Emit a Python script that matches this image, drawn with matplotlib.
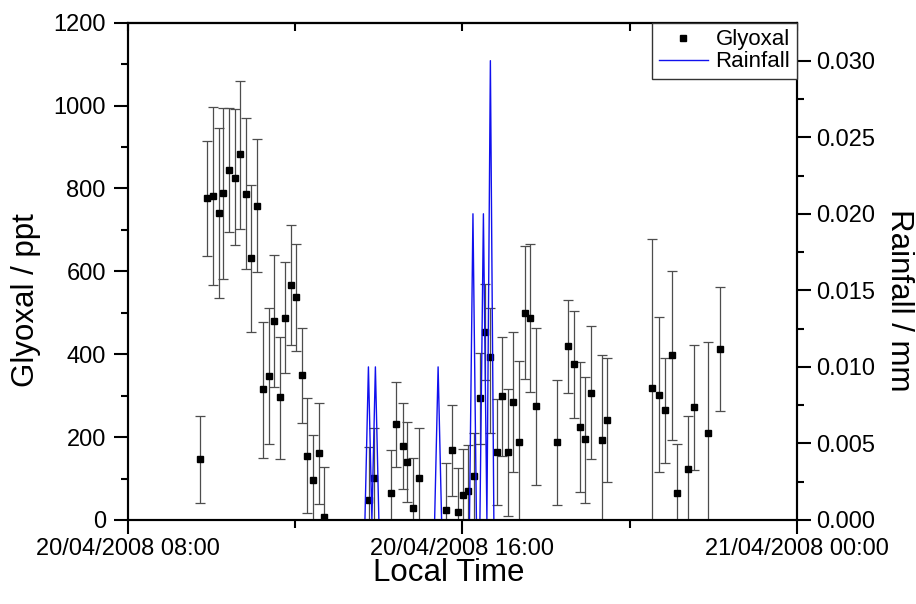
import datetime as dt
import matplotlib
matplotlib.use('Agg')
import matplotlib.pyplot as plt
import matplotlib.dates as mdates
from matplotlib.lines import Line2D
from matplotlib.ticker import MultipleLocator, FormatStrFormatter
import numpy as np

plt.rcParams['font.family'] = ['Liberation Sans', 'DejaVu Sans']

DAY = dt.datetime(2008, 4, 20)

# glyoxal measurements (local time, ppt, lower / upper end of error bar)
glyoxal_time = ['09:43', '09:54', '10:02', '10:10', '10:17', '10:25', '10:33', '10:41',
                '10:49', '10:57', '11:05', '11:14', '11:22', '11:30', '11:38', '11:46',
                '11:54', '12:01', '12:10', '12:17', '12:25', '12:34', '12:41', '13:46',
                '13:53', '14:17', '14:25', '14:34', '14:41', '14:49', '14:57', '15:37',
                '15:45', '15:53', '16:01', '16:08', '16:16', '16:25', '16:32', '16:40',
                '16:49', '16:57', '17:05', '17:13', '17:21', '17:29', '17:37', '17:46',
                '18:16', '18:32', '18:40', '18:48', '18:56', '19:04', '19:20', '19:28',
                '20:32', '20:42', '20:51', '21:01', '21:08', '21:23', '21:32', '21:53',
                '22:09']
glyoxal_ppt = [146, 776, 783, 742, 788, 844, 826, 882,
               787, 633, 758, 315, 347, 481, 296, 488,
               568, 537, 349, 155, 97, 161, 7, 48,
               102, 64, 231, 179, 140, 30, 102, 23,
               169, 19, 60, 71, 107, 294, 453, 393,
               163, 299, 164, 285, 189, 500, 488, 274,
               188, 419, 376, 225, 195, 307, 192, 241,
               319, 302, 265, 397, 66, 122, 273, 211,
               413]
glyoxal_low = [40, 638, 566, 536, 581, 694, 664, 703,
               606, 454, 598, 150, 183, 321, 146, 354,
               422, 409, 235, 16, 0, 38, 0, 0,
               0, 0, 128, 74, 43, 0, 0, 0,
               59, 0, 0, 0, 0, 184, 337, 210,
               35, 155, 10, 115, 0, 340, 310, 85,
               36, 307, 247, 67, 40, 146, 0, 91,
               0, 115, 138, 192, 0, 0, 121, 0,
               264]
glyoxal_high = [252, 915, 997, 946, 995, 993, 992, 1059,
                969, 808, 919, 478, 512, 639, 442, 622,
                712, 665, 463, 295, 205, 283, 129, 175,
                221, 169, 332, 282, 237, 150, 222, 138,
                277, 125, 171, 181, 210, 403, 569, 512,
                291, 442, 317, 454, 384, 661, 665, 463,
                338, 530, 504, 382, 346, 467, 397, 391,
                678, 489, 392, 601, 183, 252, 422, 430,
                562]

# rainfall (5 min record around the showers)
rain_time = ['13:40', '13:45', '13:50', '13:55', '14:00',
             '15:20', '15:25', '15:30',
             '16:10', '16:15', '16:20', '16:25', '16:30', '16:35', '16:40', '16:45']
rain_mm = [0, 0.01, 0, 0.01, 0,
           0, 0.01, 0,
           0, 0.02, 0, 0, 0.02, 0, 0.03, 0]


def to_dt(hhmm):
    h, m = hhmm.split(':')
    return DAY + dt.timedelta(hours=int(h), minutes=int(m))


gx = [to_dt(t) for t in glyoxal_time]
gy = np.array(glyoxal_ppt, dtype=float)
yerr = [gy - np.array(glyoxal_low), np.array(glyoxal_high) - gy]
rx = [to_dt(t) for t in rain_time]

fig = plt.figure(figsize=(9.16, 6.04), dpi=100)
ax = fig.add_axes([128 / 916, 84 / 604, 669 / 916, 497.3 / 604])
ax2 = ax.twinx()

ax.errorbar(gx, gy, yerr=yerr, fmt='s', color='black', markersize=5,
            ecolor='#4d4d4d', elinewidth=0.9, capsize=3.6, capthick=0.9, zorder=3)
ax2.plot(rx, rain_mm, color='#1010ee', linewidth=1.0)

ax.set_xlim(to_dt('08:00'), DAY + dt.timedelta(days=1))
ax.set_ylim(0, 1200)
ax2.set_ylim(0, 0.03248)

ax.xaxis.set_major_locator(mdates.HourLocator(byhour=[0, 8, 16]))
ax.xaxis.set_minor_locator(mdates.HourLocator(byhour=[12, 20]))
ax.xaxis.set_major_formatter(mdates.DateFormatter('%d/%m/%Y %H:%M'))
ax.yaxis.set_major_locator(MultipleLocator(200))
ax.yaxis.set_minor_locator(MultipleLocator(100))
ax2.yaxis.set_major_locator(MultipleLocator(0.005))
ax2.yaxis.set_minor_locator(MultipleLocator(0.0025))
ax2.yaxis.set_major_formatter(FormatStrFormatter('%.3f'))

for a in (ax, ax2):
    for s in a.spines.values():
        s.set_linewidth(1.5)

ax.tick_params(axis='x', which='major', direction='out', length=10, width=1.5,
               labelsize=17, pad=3)
ax.tick_params(axis='x', which='minor', direction='out', length=6, width=1.5)
ax.tick_params(axis='y', which='major', direction='out', length=10, width=1.5,
               labelsize=17, pad=6)
ax.tick_params(axis='y', which='minor', direction='out', length=5, width=1.5)
ax2.tick_params(axis='y', which='major', direction='out', length=10, width=1.5,
                labelsize=17, pad=4)
ax2.tick_params(axis='y', which='minor', direction='out', length=5, width=1.5)

# short inward ticks on the top frame
top = ax.secondary_xaxis('top')
top.xaxis.set_major_locator(mdates.HourLocator(byhour=[0, 4, 8, 12, 16, 20]))
top.tick_params(direction='in', length=6, width=1.5, labeltop=False)
top.spines['top'].set_linewidth(1.5)

ax.set_ylabel('Glyoxal / ppt', fontsize=22.5, va='center', ha='center')
ax.yaxis.set_label_coords(-0.152, 0.442)
ax2.set_ylabel('Rainfall / mm', fontsize=22.5, rotation=270, va='center', ha='center')
ax2.yaxis.set_label_coords(1.152, 0.442)
ax.set_xlabel('Local Time', fontsize=22.5, va='center', ha='center')
ax.xaxis.set_label_coords(0.48, -0.107)

handles = [Line2D([], [], marker='s', linestyle='none', color='black', markersize=5),
           Line2D([], [], color='#1010ee', linewidth=1.0)]
leg = ax2.legend(handles, ['Glyoxal', 'Rainfall'], loc='upper right',
                 bbox_to_anchor=(1, 1), borderaxespad=0, fancybox=False,
                 edgecolor='#333333', framealpha=1, fontsize=16,
                 handlelength=2.2, handletextpad=0.35, labelspacing=0.05,
                 borderpad=0.3)
leg.get_frame().set_linewidth(1.0)

fig.savefig('out.png', dpi=100)
